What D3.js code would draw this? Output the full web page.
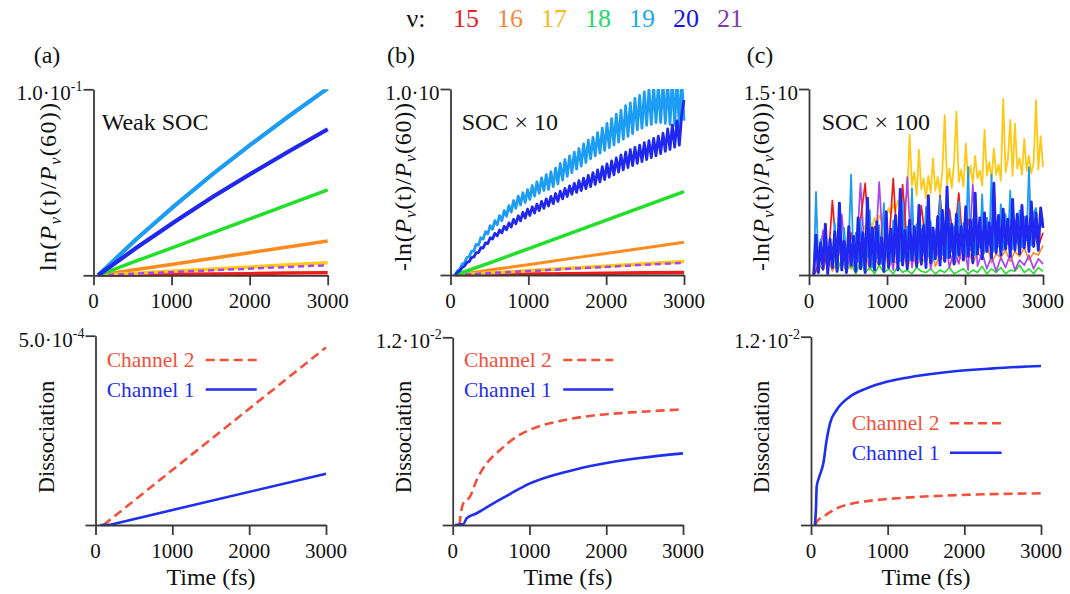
<!DOCTYPE html>
<html><head><meta charset="utf-8">
<script src="https://cdn.jsdelivr.net/npm/d3@7"></script>
</head><body style="margin:0">
<script>
// ---------------- DATA ----------------
const nuLabels = ["15","16","17","18","19","20","21"];
const xTicks = [0, 1000, 2000, 3000];
const topYMax = [0.1, 10, 15];
const topYMant = ["1.0", "1.0", "1.5"];
const topYExp = ["-1", "", ""];
const botYMax = [5e-4, 1.2e-2, 1.2e-2];
const botYMant = ["5.0", "1.2", "1.2"];
const botYExp = ["-4", "-2", "-2"];
const panelTags = ["(a)", "(b)", "(c)"];
const panelNotes = ["Weak SOC", "SOC \u00d7 10", "SOC \u00d7 100"];
const channelNames = ["Channel 2", "Channel 1"];

// panel (a): ln(P(t)/P(60)) sampled at these times
const timesLin = [60, 550, 1040, 1530, 2020, 2510, 3000];
const a15 = [0, 0.0002, 0.0005, 0.0007, 0.0009, 0.0012, 0.0014];
const a16 = [0, 0.0031, 0.0061, 0.0092, 0.0123, 0.0153, 0.0184];
const a17 = [0, 0.0011, 0.0023, 0.0034, 0.0045, 0.0057, 0.0068];
const a18 = [0, 0.0077, 0.0153, 0.0229, 0.0306, 0.0383, 0.0459];
const a19 = [0, 0.0195, 0.0375, 0.0545, 0.0705, 0.0858, 0.1005];
const a20 = [0, 0.0148, 0.0288, 0.0422, 0.0547, 0.0668, 0.0785];
const a21 = [0, 0.0009, 0.0018, 0.0027, 0.0036, 0.0045, 0.0054];

// panel (b)
const b15 = [0, 0.02, 0.05, 0.07, 0.09, 0.12, 0.14];
const b16 = [0, 0.30, 0.58, 0.88, 1.17, 1.47, 1.76];
const b17 = [0, 0.12, 0.24, 0.36, 0.48, 0.60, 0.72];
const b18 = [0, 0.72, 1.47, 2.22, 2.98, 3.73, 4.48];
const b21 = [0, 0.11, 0.22, 0.33, 0.44, 0.55, 0.66];
// evenly sampled from 60 fs to 3000 fs
const b19 = [0,0.23,0.32,0.59,0.65,0.94,0.98,1.28,1.29,1.65,
 1.61,2.0,1.93,2.33,2.21,2.65,2.46,2.92,2.7,3.19,
 2.92,3.46,3.16,3.73,3.38,4.0,3.59,4.24,3.77,4.42,
 3.9,4.59,4.06,4.81,4.24,5.01,4.39,5.22,4.54,5.39,
 4.6,5.55,4.75,5.75,4.9,6.0,5.1,6.2,5.3,6.4,
 5.5,6.6,5.7,6.8,5.85,7.05,6.05,7.25,6.25,7.4,
 6.4,7.65,6.55,7.9,6.7,8.15,6.85,8.4,7.0,8.65,
 7.15,8.85,7.3,9.1,7.45,9.25,7.6,9.5,7.8,9.65,
 7.9,9.85,8.05,10.0,8.1,10.15,8.2,10.2,8.2,10.3,
 8.15,10.4,8.1,10.5,8.05,10.5,7.95,10.6,8.3];
const b20 = [0,0.14,0.24,0.4,0.48,0.67,0.72,0.94,0.97,1.2,
 1.2,1.47,1.45,1.73,1.69,2.0,1.93,2.24,2.1,2.42,
 2.26,2.62,2.43,2.8,2.58,2.99,2.75,3.18,2.91,3.37,
 3.06,3.54,3.2,3.67,3.33,3.81,3.46,3.96,3.58,4.09,
 3.71,4.23,3.84,4.38,3.96,4.51,4.09,4.65,4.22,4.79,
 4.34,4.93,4.44,5.07,4.54,5.21,4.64,5.36,4.75,5.5,
 4.86,5.65,5.0,5.82,5.13,5.97,5.26,6.13,5.39,6.29,
 5.53,6.45,5.65,6.6,5.78,6.74,5.88,6.86,6.0,6.98,
 6.1,7.11,6.2,7.22,6.31,7.34,6.41,7.47,6.53,7.62,
 6.65,7.86,6.76,8.06,6.87,8.28,6.98,8.58,9.4];

// panel (c): evenly sampled from 60 fs to 3000 fs
const c15 = [0,0.8,2.1,0.5,6.0,1.2,2.8,0.9,3.4,1.5,
 4.4,7.4,1.8,3.9,1.1,5.1,2.0,7.8,1.6,7.3,
 2.3,4.8,1.7,5.6,2.4,3.6,1.9,6.4,2.2,5.3,
 2.6,6.6,1.8,4.5,2.7,3.9,2.0,4.6,2.5,3.7,
 1.9,4.2,2.6,3.5,2.1,4.4,2.8,3.6,2.3,3.4];
const c16 = [0,0.9,0.4,1.6,0.3,1.1,0.6,2.2,0.5,1.3,
 0.8,1.9,0.4,1.5,0.7,2.4,0.6,1.2,0.9,2.0,
 0.5,1.7,0.8,1.4,1.0,2.3,0.7,1.6,1.1,1.9,
 0.8,1.5,1.2,2.1,0.9,1.8,1.3,2.5,1.0,1.7,
 1.4,2.0,1.1,1.9,1.5,2.2,1.2,1.8,1.6,2.4];
const c17 = [0.2,1.0,0.6,1.4,0.8,1.7,1.1,2.0,1.3,1.8,
 1.5,2.3,1.9,2.6,2.2,2.6,3.0,2.8,3.4,3.1,
 3.7,3.4,4.0,3.6,4.3,3.9,4.6,4.1,4.8,4.4,
 5.1,4.7,5.4,4.9,5.7,5.2,6.0,5.5,6.3,5.8,
 6.5,11.3,7.2,8.3,6.4,10.1,6.9,7.8,6.2,8.0,
 6.6,9.4,6.8,7.9,6.5,8.4,12.9,7.3,8.6,7.0,
 9.0,13.2,7.5,8.5,7.1,10.6,7.6,8.8,7.4,9.6,
 7.8,8.4,7.2,11.7,8.0,9.1,7.7,10.2,8.1,8.9,
 7.6,14.2,8.3,9.3,12.5,8.0,12.2,8.6,9.4,8.1,
 11.0,8.4,9.6,8.2,9.0,14.1,8.5,11.2,8.7];
const c18 = [0,1.2,3.4,0.5,2.1,0.2,1.4,0.3,0.9,0.1,
 1.1,0.2,0.6,0.1,0.8,0.2,0.5,0.1,0.7,0.2,
 0.4,0.1,0.6,0.3,0.2,0.5,0.1,0.4,0.2,0.6,
 0.1,0.3,0.5,0.1,0.4,0.2,0.7,0.1,0.5,0.2,
 0.6,0.1,0.4,0.3,0.8,0.2,0.5,0.1,0.6,0.3];
const c19 = [0,6.7,0.8,2.9,0.4,3.3,1.0,2.5,0.6,4.2,
 0.9,3.1,0.5,3.8,1.2,2.7,8.1,0.7,3.4,1.1,
 4.5,0.8,3.0,1.4,5.2,0.6,3.6,1.3,4.0,0.9,
 5.8,1.5,3.2,1.0,4.4,1.7,3.5,1.1,6.0,1.4,
 3.9,1.2,7.0,1.6,4.1,1.3,3.7,1.8,5.5,1.5,
 4.3,1.2,3.6,2.0,6.2,1.6,4.0,1.4,4.8,1.9,
 3.9,1.5,5.9,2.1,4.2,1.7,8.7,2.0,4.5,1.6,
 3.8,2.2,6.5,1.8,4.6,2.4,8.1,1.9,4.3,2.3,
 5.7,2.0,4.9,2.5,6.8,2.1,4.4,2.6,5.2,2.2,
 4.7,2.8,8.7,2.4,5.0,5.4,2.6,4.9,4.4];
const c20 = [0,3.2,0.2,2.6,0.5,4.1,0.1,2.9,0.6,3.5,
 0.3,5.8,0.4,2.7,0.2,3.9,0.8,3.1,0.3,4.6,
 0.5,3.4,0.2,6.2,0.7,3.8,0.4,4.3,0.9,3.0,
 0.3,5.1,0.6,3.7,1.1,4.8,0.4,6.9,0.8,3.6,
 0.5,4.4,1.2,3.9,0.7,5.6,0.9,4.0,0.6,6.4,
 1.0,3.8,1.3,4.7,0.8,5.2,1.1,7.1,1.4,4.1,
 0.9,4.9,1.6,3.9,1.2,5.5,1.5,4.4,1.0,6.6,
 1.7,4.6,1.3,5.0,1.9,4.2,1.4,7.4,1.8,4.8,
 1.6,5.3,2.1,4.5,1.5,6.1,2.0,4.9,1.7,5.6,
 2.2,4.7,1.9,5.9,2.3,5.0,2.0,5.4,3.8];
const c21 = [0,0.6,3.6,0.4,2.2,0.8,4.9,0.3,1.9,0.7,
 7.4,1.0,3.1,0.5,7.5,0.9,2.6,0.4,3.8,1.1,
 7.9,0.6,2.9,0.8,4.1,0.5,2.4,1.0,3.3,0.6,
 2.0,0.9,3.0,0.4,7.3,0.7,1.8,0.5,1.5,0.3,
 1.4,0.6,1.7,0.4,1.2,0.8,1.6,0.5,1.3,0.9];

// Dissociation, channel 2 (dashed) and channel 1 (solid)
const dA2t = [104, 3000];
const dA2 = [0, 4.69e-4];
const dA1t = [60, 180, 3000];
const dA1 = [0, 0.002e-4, 1.355e-4];
const dB2t = [88, 95, 139, 226, 312, 443, 616, 833, 1050, 1397, 1831, 2265, 2700, 3000];
const dB2 = [0, 0.00032, 0.00139, 0.00181, 0.00288, 0.00394, 0.00479, 0.00565, 0.00618, 0.00665, 0.00700, 0.00718, 0.00731, 0.00739];
const dB1t = [30, 139, 182, 312, 529, 746, 1007, 1311, 1614, 2005, 2439, 3000];
const dB1 = [0, 0.00006, 0.00043, 0.00075, 0.00139, 0.00198, 0.00266, 0.00318, 0.00357, 0.00396, 0.00428, 0.00458];
const dC2t = [52, 74, 161, 335, 552, 856, 1291, 1943, 3000];
const dC2 = [0, 0.0002, 0.00053, 0.00106, 0.00138, 0.00159, 0.00176, 0.00191, 0.00202];
const dC1t = [52, 66, 74, 110, 161, 204, 248, 335, 508, 726, 987, 1378, 1812, 2377, 3000];
const dC1 = [0, 0.0012, 0.00244, 0.0031, 0.00393, 0.00542, 0.00648, 0.00733, 0.00818, 0.00871, 0.00913, 0.00949, 0.00977, 0.00998, 0.01013];

// ---------------- STYLE ----------------
const FONT = "Times New Roman, Liberation Serif, Tinos, serif";
const COL = {15:"#f01a1a",16:"#ff8a1e",17:"#ffc814",18:"#22e02a",19:"#1c9cf2",20:"#2028f0",21:"#a844f0"};
const LEGCOL = {15:"#ee1c25",16:"#ef8a3e",17:"#f6b92a",18:"#27d66a",19:"#1fa8e8",20:"#1616dc",21:"#7b40a8"};
const CH2 = "#f2503a", CH1 = "#1f2ff0";
const AXC = "#3a3a3a";

const svg = d3.select("body").append("svg").attr("width",1070).attr("height",594)
  .attr("font-family", FONT);

const topLayout = [
  {x:[93.5,327.7], y:[275.3,89.3], lab:[48,187], tag:[47,63], note:[101.7,130]},
  {x:[450.5,684], y:[275,89], lab:[403,187], tag:[401,63], note:[461.7,130]},
  {x:[809,1043], y:[275,89], lab:[761.7,187], tag:[760,63], note:[821.7,130]}
];
const botLayout = [
  {x:[95.5,326], y:[525,335.7], lab:[46.7,437], time:[211,585], leg:[106.7,360,205.7,256.7]},
  {x:[452.7,683], y:[525,337.3], lab:[403.3,437], time:[568,585], leg:[464,360,563.3,613.3]},
  {x:[811,1041], y:[525,336.7], lab:[761.7,437], time:[926,585], leg:[851.7,423.3,950,1001.7]}
];

function serif(sel){ return sel.attr("font-family", FONT); }
function addText(x, y, size, fill, str){
  return serif(svg.append("text")).attr("x",x).attr("y",y).attr("font-size",size)
    .attr("fill",fill).text(str);
}

let clipN = 0;
function makePanel(L, yMax, mant, exp){
  const x = d3.scaleLinear().domain([0,3000]).range(L.x);
  const y = d3.scaleLinear().domain([0,yMax]).range(L.y);
  const id = "clip" + (clipN++);
  svg.append("clipPath").attr("id",id).append("rect")
    .attr("x",L.x[0]).attr("y",L.y[1]).attr("width",L.x[1]-L.x[0]+3).attr("height",L.y[0]-L.y[1]+1.5);
  const plot = svg.append("g").attr("clip-path",`url(#${id})`);
  const gx = svg.append("g").attr("transform",`translate(0,${L.y[0]})`)
    .call(d3.axisBottom(x).tickValues(xTicks).tickSize(10).tickSizeOuter(0).tickFormat(""));
  const gy = svg.append("g").attr("transform",`translate(${L.x[0]},0)`)
    .call(d3.axisLeft(y).tickValues([0,yMax]).tickSize(10).tickSizeOuter(0).tickFormat(""));
  [gx,gy].forEach(g=>{
    g.selectAll("text").remove();
    g.attr("font-family", FONT);
    g.select(".domain").attr("stroke",AXC).attr("stroke-width",1.8);
    g.selectAll(".tick line").attr("stroke",AXC).attr("stroke-width",1.8);
  });
  xTicks.forEach(v=>{
    addText(x(v), L.y[0]+33, 21, "#111", d3.format("d")(v)).attr("text-anchor","middle");
  });
  const t = addText(L.x[0]-11, y(yMax)+11, 21, "#111", null).attr("text-anchor","end");
  t.append("tspan").text(mant + "\u00b710");
  if (exp) t.append("tspan").attr("font-size",14).attr("dy",-9).text(exp);
  return {x, y, plot};
}

function evenPts(vals){
  const step = (3000-60)/(vals.length-1);
  return vals.map((v,i)=>[60+i*step, v]);
}
function zipPts(ts, vals){ return vals.map((v,i)=>[ts[i], v]); }

function drawLine(P, pts, color, w, dash, curve){
  const ln = d3.line().x(d=>P.x(d[0])).y(d=>P.y(d[1])).curve(curve || d3.curveLinear);
  P.plot.append("path").datum(pts).attr("d",ln).attr("fill","none")
    .attr("stroke",color).attr("stroke-width",w).attr("stroke-linejoin","round")
    .attr("stroke-dasharray",dash||null);
}

// ---------------- LEGEND (top) ----------------
addText(416, 27, 26, "#111", "\u03bd:").attr("text-anchor","middle");
const legX = d3.scalePoint().domain(nuLabels).range([466,730]);
nuLabels.forEach(d=>{
  addText(legX(d), 27, 26, LEGCOL[d], d).attr("text-anchor","middle");
});

// ---------------- TOP PANELS ----------------
function topYLabel(L, minus){
  const t = serif(svg.append("text")).attr("transform",`translate(${L.lab[0]+7.5},${L.lab[1]}) rotate(-90)`)
    .attr("text-anchor","middle").attr("font-size",24).attr("fill","#111")
    .attr("textLength", 168).attr("lengthAdjust","spacing");
  t.append("tspan").text((minus?"-":"")+"ln(");
  t.append("tspan").attr("font-style","italic").text("P");
  t.append("tspan").attr("font-style","italic").attr("font-size",17).attr("dy",5).text("\u03bd");
  t.append("tspan").attr("dy",-5).text("(t)/");
  t.append("tspan").attr("font-style","italic").text("P");
  t.append("tspan").attr("font-style","italic").attr("font-size",17).attr("dy",5).text("\u03bd");
  t.append("tspan").attr("dy",-5).text("(60))");
}

const topSeries = [
  {15:a15,16:a16,17:a17,18:a18,19:a19,20:a20,21:a21},
  {15:b15,16:b16,17:b17,18:b18,19:b19,20:b20,21:b21}
];

topLayout.forEach((L,k)=>{
  const P = makePanel(L, topYMax[k], topYMant[k], topYExp[k]);
  topYLabel(L, k>0);
  addText(L.tag[0], L.tag[1], 24, "#111", panelTags[k]).attr("text-anchor","middle");
  addText(L.note[0], L.note[1], 24, "#111", panelNotes[k]);
  if (k === 0){
    const S = topSeries[0];
    drawLine(P, zipPts(timesLin,S[15]), COL[15], 3.5);
    drawLine(P, zipPts(timesLin,S[16]), COL[16], 3.5);
    drawLine(P, zipPts(timesLin,S[17]), COL[17], 3.5);
    drawLine(P, zipPts(timesLin,S[21]), COL[21], 2.5, "6,4");
    drawLine(P, zipPts(timesLin,S[18]), COL[18], 3.5);
    drawLine(P, zipPts(timesLin,S[19]), COL[19], 4.2);
    drawLine(P, zipPts(timesLin,S[20]), COL[20], 4.2);
  } else if (k === 1){
    const S = topSeries[1];
    drawLine(P, zipPts(timesLin,S[15]), COL[15], 3.5);
    drawLine(P, zipPts(timesLin,S[16]), COL[16], 3);
    drawLine(P, zipPts(timesLin,S[17]), COL[17], 3.5);
    drawLine(P, zipPts(timesLin,S[21]), COL[21], 2.5, "6,4");
    drawLine(P, zipPts(timesLin,S[18]), COL[18], 3.5);
    drawLine(P, evenPts(S[19]), COL[19], 2.8);
    drawLine(P, evenPts(S[20]), COL[20], 2.8);
  } else {
    drawLine(P, evenPts(c16), COL[16], 1.6);
    drawLine(P, evenPts(c18), COL[18], 1.6);
    drawLine(P, evenPts(c17), COL[17], 1.8);
    drawLine(P, evenPts(c21), COL[21], 1.7);
    drawLine(P, evenPts(c15), COL[15], 1.7);
    drawLine(P, evenPts(c19), COL[19], 1.8);
    drawLine(P, evenPts(c20), COL[20], 2.9);
  }
});

// ---------------- BOTTOM PANELS ----------------
const botData = [
  [zipPts(dA2t,dA2), zipPts(dA1t,dA1)],
  [zipPts(dB2t,dB2), zipPts(dB1t,dB1)],
  [zipPts(dC2t,dC2), zipPts(dC1t,dC1)]
];
botLayout.forEach((L,k)=>{
  const P = makePanel(L, botYMax[k], botYMant[k], botYExp[k]);
  serif(svg.append("text")).attr("transform",`translate(${L.lab[0]+7.5},${L.lab[1]}) rotate(-90)`)
    .attr("text-anchor","middle").attr("font-size",22.5).attr("fill","#111").text("Dissociation");
  addText(L.time[0], L.time[1], 24, "#111", "Time (fs)").attr("text-anchor","middle");
  const cv = k === 0 ? d3.curveLinear : d3.curveMonotoneX;
  drawLine(P, botData[k][0], CH2, 2.6, "9,5", cv);
  drawLine(P, botData[k][1], CH1, 2.6, null, cv);
  const lg = L.leg;
  [[channelNames[0], CH2, "9,5", lg[1]], [channelNames[1], CH1, null, lg[1]+29.5]].forEach(r=>{
    addText(lg[0], r[3]+7, 21.5, r[1], r[0]);
    svg.append("line").attr("x1",lg[2]).attr("x2",lg[3]).attr("y1",r[3]).attr("y2",r[3])
      .attr("stroke",r[1]).attr("stroke-width",2.4).attr("stroke-dasharray",r[2]);
  });
});
</script>
</body></html>
